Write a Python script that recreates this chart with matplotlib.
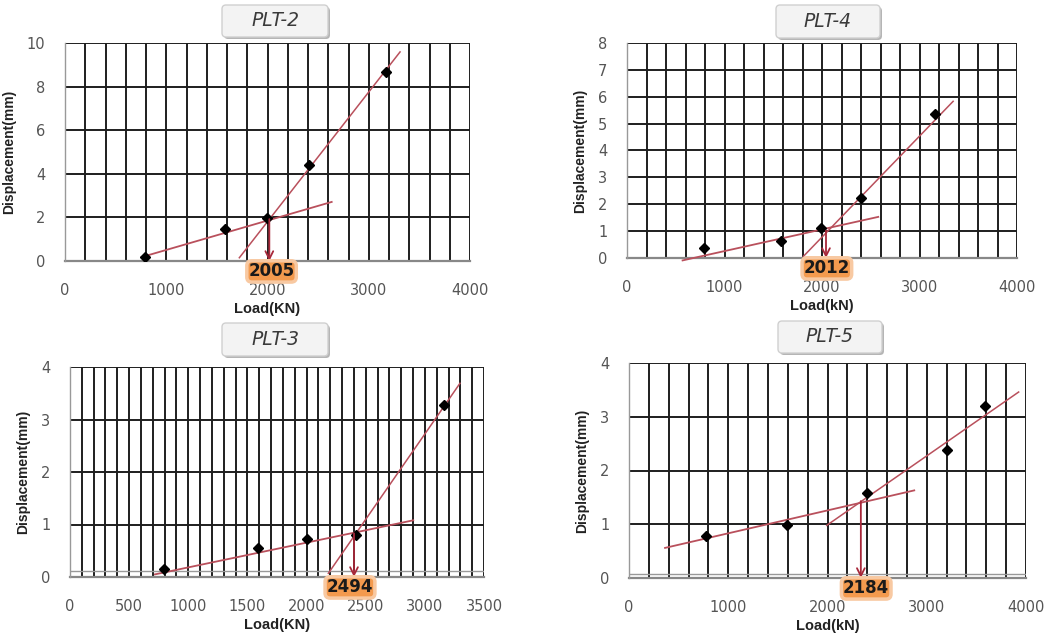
import matplotlib
matplotlib.use("Agg")
import matplotlib.pyplot as plt
import numpy as np
from matplotlib.patches import FancyBboxPatch

# ---------------- data ----------------
titles = ["PLT-2", "PLT-4", "PLT-3", "PLT-5"]
xlabels = ["Load(KN)", "Load(kN)", "Load(KN)", "Load(kN)"]
ylabel = "Displacement(mm)"

plt2_load = [790, 1584, 1992, 2413, 3170]
plt2_disp = [0.18, 1.47, 1.99, 4.39, 8.67]
plt2_line1_x = [757, 2634]
plt2_line1_y = [0.18, 2.71]
plt2_line2_x = [1722, 3309]
plt2_line2_y = [0.15, 9.59]
plt2_arrow = [2018, 1.92]
plt2_label = "2005"

plt4_load = [785, 1577, 1986, 2403, 3154]
plt4_disp = [0.37, 0.63, 1.13, 2.25, 5.34]
plt4_line1_x = [570, 2577]
plt4_line1_y = [-0.09, 1.53]
plt4_line2_x = [1809, 3345]
plt4_line2_y = [0.06, 5.83]
plt4_arrow = [2041, 1.02]
plt4_label = "2012"

plt3_load = [797, 1586, 2006, 2420, 3164]
plt3_disp = [0.15, 0.55, 0.72, 0.80, 3.28]
plt3_line1_x = [718, 2902]
plt3_line1_y = [0.05, 1.08]
plt3_line2_x = [2184, 3297]
plt3_line2_y = [0.07, 3.69]
plt3_arrow = [2401, 0.83]
plt3_label = "2494"

plt5_load = [773, 1590, 2403, 3203, 3590]
plt5_disp = [0.79, 0.99, 1.59, 2.39, 3.20]
plt5_line1_x = [363, 2874]
plt5_line1_y = [0.56, 1.63]
plt5_line2_x = [1993, 3926]
plt5_line2_y = [0.98, 3.46]
plt5_arrow = [2336, 1.43]
plt5_label = "2184"

panels = [
    dict(title=titles[0], xlabel=xlabels[0], load=plt2_load, disp=plt2_disp,
         l1=(plt2_line1_x, plt2_line1_y), l2=(plt2_line2_x, plt2_line2_y),
         arrow=plt2_arrow, label=plt2_label,
         xmax=4000, xgrid=200, xtick=1000, ymax=10, ygrid=2, gray=None,
         px=(65, 470, 43, 261), tbox=(222, 328, 5, 37), lab_x=2040),
    dict(title=titles[1], xlabel=xlabels[1], load=plt4_load, disp=plt4_disp,
         l1=(plt4_line1_x, plt4_line1_y), l2=(plt4_line2_x, plt4_line2_y),
         arrow=plt4_arrow, label=plt4_label,
         xmax=4000, xgrid=200, xtick=1000, ymax=8, ygrid=1, gray=None,
         px=(627, 1017, 43, 258), tbox=(776, 880, 5, 38), lab_x=2050),
    dict(title=titles[2], xlabel=xlabels[2], load=plt3_load, disp=plt3_disp,
         l1=(plt3_line1_x, plt3_line1_y), l2=(plt3_line2_x, plt3_line2_y),
         arrow=plt3_arrow, label=plt3_label,
         xmax=3500, xgrid=100, xtick=500, ymax=4, ygrid=1, gray=0.11,
         px=(70, 484, 367, 577), tbox=(222, 328, 323, 356), lab_x=2367),
    dict(title=titles[3], xlabel=xlabels[3], load=plt5_load, disp=plt5_disp,
         l1=(plt5_line1_x, plt5_line1_y), l2=(plt5_line2_x, plt5_line2_y),
         arrow=plt5_arrow, label=plt5_label,
         xmax=4000, xgrid=200, xtick=1000, ymax=4, ygrid=1, gray=0.08,
         px=(629, 1026, 363, 578), tbox=(778, 882, 321, 353), lab_x=2390),
]

W, H = 1064, 641
fig = plt.figure(figsize=(W / 100, H / 100), dpi=100)
fig.patch.set_facecolor("white")

RED = "#b9505c"
ARROW = "#a8283a"
GRID = "#1e1e1e"
LABEL_FONT = ["Liberation Sans", "DejaVu Sans"]

for p in panels:
    l, r, t, b = p["px"]
    ax = fig.add_axes([l / W, 1 - b / H, (r - l) / W, (b - t) / H])
    ax.set_xlim(0, p["xmax"])
    ax.set_ylim(0, p["ymax"])
    # grid
    for xv in np.arange(p["xgrid"], p["xmax"] + 1, p["xgrid"]):
        ax.axvline(xv, color=GRID, lw=1.4, zorder=1)
    for yv in np.arange(p["ygrid"], p["ymax"] + 0.001, p["ygrid"]):
        ax.axhline(yv, color=GRID, lw=1.4, zorder=1)
    ax.axhline(0, color="#888888", lw=1.6, zorder=1.5, clip_on=False)
    if p["gray"] is not None:
        ax.axhline(p["gray"], color="#999999", lw=1.0, zorder=1.2)
    for s in ["top", "right", "bottom"]:
        ax.spines[s].set_visible(False)
    ax.spines["left"].set_color("#999999")
    ax.spines["left"].set_linewidth(1.0)

    ax.set_xticks(np.arange(0, p["xmax"] + 1, p["xtick"]))
    ax.set_yticks(np.arange(0, p["ymax"] + 0.001, p["ygrid"]))
    ax.tick_params(axis="both", length=0, labelsize=10.5, labelcolor="#555555")
    ax.tick_params(axis="x", pad=16)
    ax.tick_params(axis="y", pad=14)
    ax.set_xlabel(p["xlabel"], fontsize=10.5, fontweight="bold",
                  family=LABEL_FONT, color="#222222", labelpad=3)
    ax.set_ylabel(ylabel, fontsize=10, fontweight="bold",
                  family=LABEL_FONT, color="#222222", labelpad=8)

    # fit lines
    ax.plot(p["l1"][0], p["l1"][1], color=RED, lw=1.3, zorder=3, clip_on=False)
    ax.plot(p["l2"][0], p["l2"][1], color=RED, lw=1.1, zorder=3, clip_on=False)
    # data points
    ax.plot(p["load"], p["disp"], ls="none", marker="D", ms=5.5,
            color="black", zorder=4)
    # arrow
    ax.annotate("", xy=(p["arrow"][0], 0), xytext=(p["arrow"][0], p["arrow"][1]),
                arrowprops=dict(arrowstyle="->", color=ARROW, lw=1.3,
                                mutation_scale=14, shrinkA=0, shrinkB=0),
                zorder=5)
    # orange label
    ax.annotate(p["label"], xy=(p["lab_x"], 0), xycoords="data",
                xytext=(0, -7.5), textcoords="offset points",
                ha="center", va="center", fontsize=12, fontweight="bold",
                color="#1a1a1a", annotation_clip=False, zorder=6,
                bbox=dict(boxstyle="round,pad=0.1,rounding_size=0.3",
                          fc="#f39a4e", ec="#f8c9a2", lw=2.5))

# title boxes on an overlay axes
ov = fig.add_axes([0, 0, 1, 1], zorder=10)
ov.set_xlim(0, W)
ov.set_ylim(H, 0)
ov.axis("off")
ov.patch.set_alpha(0)
for p in panels:
    tl, tr, tt, tb = p["tbox"]
    ov.add_patch(FancyBboxPatch((tl + 2, tt + 2), tr - tl, tb - tt,
                                boxstyle="round,pad=0,rounding_size=4",
                                fc="#b5b5b5", ec="none", zorder=1))
    ov.add_patch(FancyBboxPatch((tl, tt), tr - tl, tb - tt,
                                boxstyle="round,pad=0,rounding_size=4",
                                fc="#f3f3f3", ec="#d0d0d0", lw=1.0, zorder=2))
    ov.text((tl + tr) / 2, (tt + tb) / 2, p["title"], ha="center", va="center",
            fontsize=13.5, style="italic", family=["DejaVu Sans"],
            fontweight="normal", color="#3a3a3a", zorder=3)

fig.savefig("out.png", dpi=100, facecolor="white")
